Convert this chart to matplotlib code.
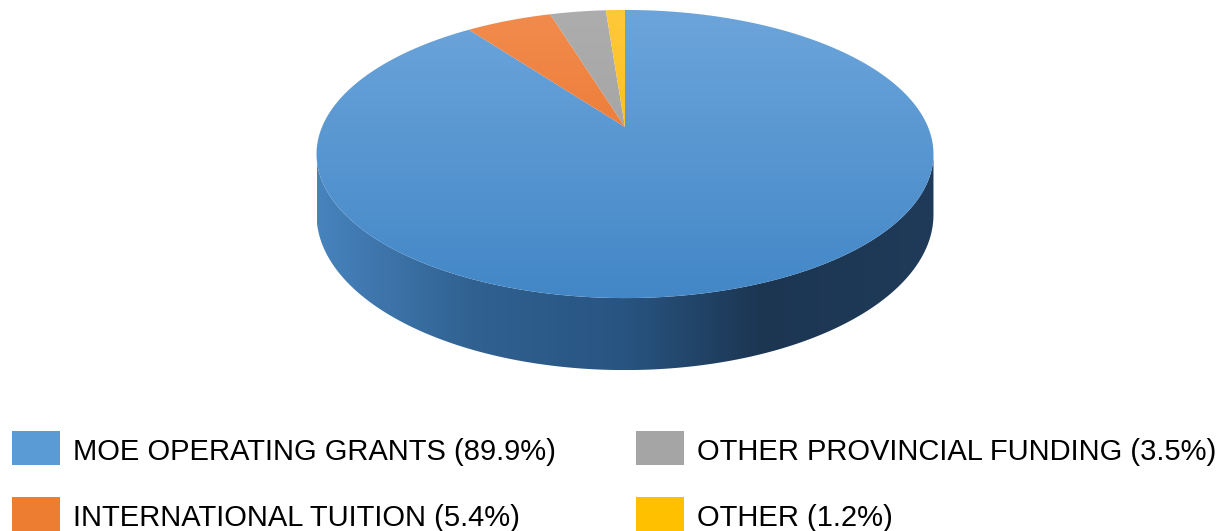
import numpy as np
import matplotlib.pyplot as plt
from matplotlib.patches import Polygon, Rectangle
from matplotlib.colors import LinearSegmentedColormap

# donnees du graphique
labels = ["MOE OPERATING GRANTS", "INTERNATIONAL TUITION",
          "OTHER PROVINCIAL FUNDING", "OTHER"]
shares = [89.9, 5.4, 3.5, 1.2]
colors = ["#5B9BD5", "#ED7D31", "#A5A5A5", "#FFC000"]
top_light = ["#6CA5DB", "#F18C4E", "#ADADAD", "#FFC83A"]
top_dark = ["#4387C7", "#EA6A1F", "#9C9C9C", "#F7B800"]
side_colors = ["#4783BD", "#306191", "#285481", "#1C3652", "#1F3B59"]
side_pos = [0.0, 0.25, 0.5, 0.72, 1.0]

# geometrie (pixels) de la tarte 3D
CX, CY = 625, 127
R = 303
RY = 139
K = 0.1875   # perspective
H = 58.5     # epaisseur


def project(theta, z=0.0):
    # theta : angle horaire depuis midi
    X = np.sin(theta)
    Y = -np.cos(theta)
    w = 1 - K * Y
    return CX + R * X / w, CY + (RY * Y + H * z) / w


plt.rcParams['font.family'] = ['Liberation Sans', 'DejaVu Sans']
fig = plt.figure(figsize=(12.3, 5.31), dpi=100)
ax = fig.add_axes([0, 0, 1, 1])

# face laterale (visible seulement a l'avant)
a1 = np.arccos(-K)
a2 = 2 * np.pi - a1
t = np.linspace(a1, a2, 300)
xt, yt = project(t)
xb, yb = project(t[::-1], 1.0)
side = Polygon(np.column_stack([np.r_[xt, xb], np.r_[yt, yb]]),
               closed=True, facecolor="none", edgecolor="none")
ax.add_patch(side)
side_cmap = LinearSegmentedColormap.from_list("side", list(zip(side_pos, side_colors)))
im = ax.imshow(np.linspace(0, 1, 512).reshape(1, -1), cmap=side_cmap, aspect='auto',
               extent=[xt.min(), xt.max(), yb.max(), yt.min()], zorder=1,
               interpolation='bilinear')
im.set_clip_path(side)

# face superieure
tt = np.linspace(0, 2 * np.pi, 600)
_, ytop = project(tt)
top_y0, top_y1 = ytop.min(), ytop.max()
cum = np.r_[0, np.cumsum(shares)] / sum(shares) * 2 * np.pi
for i in range(len(shares)):
    th = np.linspace(cum[i], cum[i + 1], max(int(300 * shares[i] / 100), 4))
    px, py = project(th)
    poly = Polygon(np.column_stack([np.r_[CX, px], np.r_[CY, py]]),
                   closed=True, facecolor="none", edgecolor="none")
    ax.add_patch(poly)
    cm = LinearSegmentedColormap.from_list("w%d" % i, [top_light[i], top_dark[i]])
    im = ax.imshow(np.linspace(0, 1, 256).reshape(-1, 1), cmap=cm, aspect='auto',
                   extent=[CX - R * 1.1, CX + R * 1.1, top_y1, top_y0], zorder=2,
                   interpolation='bilinear')
    im.set_clip_path(poly)

# legende (2 colonnes, remplie par colonne)
col_x = [12, 636]
row_y = [431, 497]
for i, (lab, s, c) in enumerate(zip(labels, shares, colors)):
    x0 = col_x[i // 2]
    y0 = row_y[i % 2]
    ax.add_patch(Rectangle((x0, y0), 48, 34, facecolor=c, edgecolor="none",
                           clip_on=False, zorder=3))
    ax.text(x0 + 61, y0 + 29, "%s (%.1f%%)" % (lab, s), fontsize=21,
            color="black", va="baseline", ha="left", zorder=3)

ax.set_xlim(0, 1230)
ax.set_ylim(531, 0)
ax.axis('off')

fig.savefig("out.png", dpi=100)
